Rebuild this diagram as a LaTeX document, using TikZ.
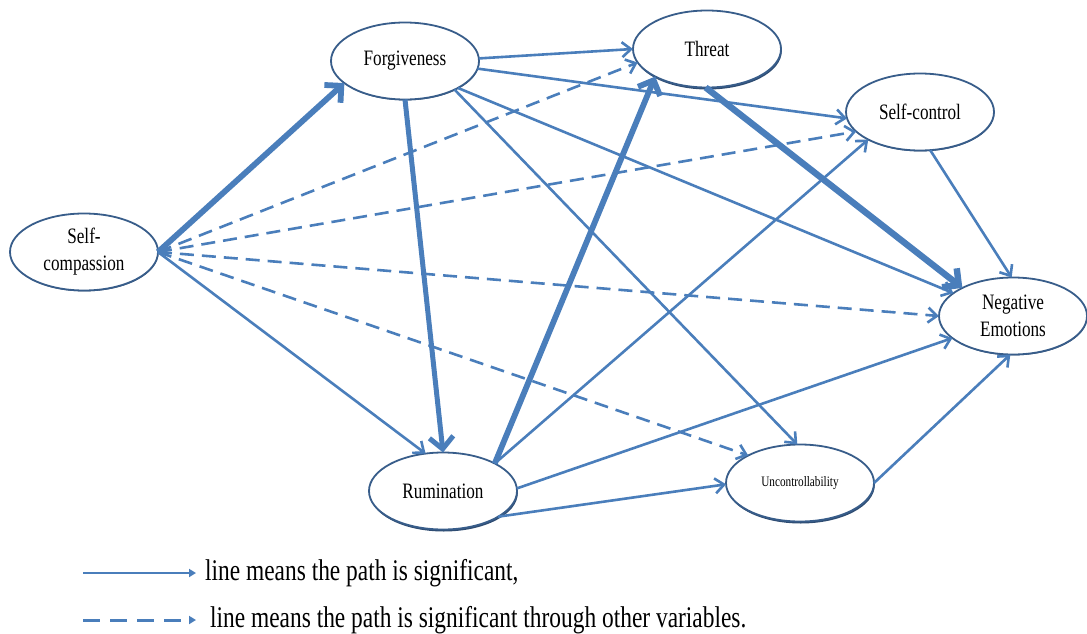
\documentclass[tikz,border=0pt]{standalone}
\usepackage{fontspec}
\setmainfont{Liberation Serif}[FakeStretch=0.78]
\usetikzlibrary{arrows.meta,shapes.geometric,shadows}

\definecolor{pathblue}{RGB}{74,126,187}
\definecolor{rimblue}{RGB}{56,93,138}
\definecolor{rimdark}{RGB}{46,76,114}

\begin{document}
\begin{tikzpicture}[x=1pt,y=-1pt,
  var/.style={ellipse, draw=rimblue, line width=1.8pt, fill=white,
    minimum width=148pt, minimum height=77pt, inner sep=0pt, outer sep=0pt,
    align=center, font=\fontsize{22}{27}\selectfont,
    drop shadow={shadow xshift=0.4pt, shadow yshift=-0.9pt, fill=rimdark, opacity=1}},
  deeprim/.style={drop shadow={shadow xshift=0.8pt, shadow yshift=-2pt, fill=rimdark, opacity=1}},
  direct/.style={draw=pathblue, line width=2.6pt,
    -{Straight Barb[length=9pt,width=15pt]}},
  strong/.style={draw=pathblue, line width=5.8pt,
    -{Straight Barb[length=12pt,width=24pt]}},
  indirect/.style={direct, dash pattern=on 14pt off 8pt},
  legendtext/.style={anchor=west, inner sep=0pt, font=\fontsize{30}{34}\selectfont},
]
\useasboundingbox (0,0) rectangle (1087,634);

% variables
\node[var] (sc) at (84,252) {Self-\\compassion};
\node[var] (forg) at (405,61) {Forgiveness};
\node[var,deeprim] (threat) at (707,49) {Threat};
\node[var] (sctl) at (920,112) {Self-control};
\node[var] (neg) at (1013,316) {Negative\\Emotions};
\node[var,deeprim] (rum) at (443,491) {Rumination};
\node[var,deeprim,font=\fontsize{14.4}{17}\selectfont] (unc) at (800,483) {Uncontrollability};

% paths from self-compassion
\draw[strong] (sc.east) -- (forg.200);
\draw[direct] (sc.east) -- (rum.115);
\draw[indirect] (sc.east) -- (threat.191);
\draw[indirect] (sc.east) -- (sctl.197);
\draw[indirect] (sc.east) -- (neg.180);
\draw[indirect] (sc.east) -- (unc.152);

% paths from forgiveness
\draw[direct] (forg.2) -- (threat.180);
\draw[direct] (forg.-6) -- (sctl.185);
\draw[strong, line width=5pt] (forg.270) -- (rum.90);
\draw[direct] (forg.333) -- (neg.159);
\draw[direct] (forg.330) -- (unc.94);

% paths from threat, rumination, self-control, uncontrollability
\draw[strong, line width=6.4pt] (threat.268) -- (neg.151);
\draw[strong] (rum.28) -- (threat.208);
\draw[direct] (rum.28) -- (sctl.208);
\draw[direct] (rum.2) -- (neg.200);
\draw[direct] (rum.335) -- (unc.181);
\draw[direct] (sctl.285) -- (neg.92);
\draw[direct] (unc.0) -- (neg.266);

% legend
\coordinate (s1) at (83,573);
\coordinate (e1) at (196,573);
\coordinate (s2) at (83,620);
\coordinate (e2) at (196,620);
\draw[draw=pathblue, line width=2.8pt, -{Triangle[length=7pt,width=8pt]}] (s1) -- (e1);
\draw[draw=pathblue, line width=3pt, dash pattern=on 17pt off 10pt,
  -{Triangle[length=7pt,width=8pt]}] (s2) -- (e2);
\node[legendtext] (t1) at (205,573) {line means the path is significant,};
\node[legendtext] (t2) at (210,620) {line means the path is significant through other variables.};
\end{tikzpicture}
\end{document}
